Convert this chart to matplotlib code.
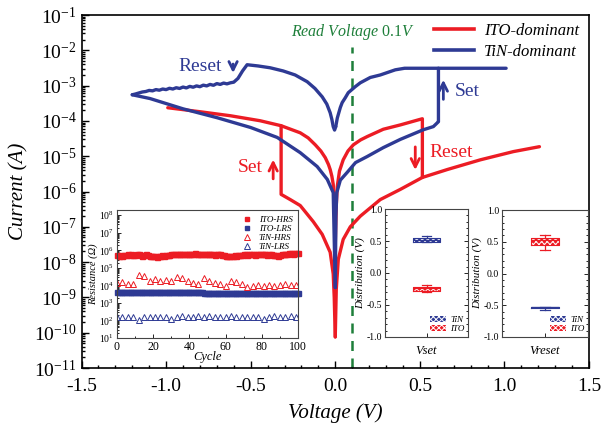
import matplotlib
matplotlib.use('Agg')
import matplotlib.pyplot as plt
import numpy as np
from matplotlib.ticker import LogLocator, MultipleLocator, NullFormatter, FormatStrFormatter
from matplotlib.patches import Patch
from matplotlib.lines import Line2D

plt.rcParams['font.family'] = ['Liberation Serif', 'DejaVu Serif']
plt.rcParams['mathtext.fontset'] = 'custom'
plt.rcParams['mathtext.rm'] = 'Liberation Serif'
plt.rcParams['mathtext.it'] = 'Liberation Serif:italic'
plt.rcParams['axes.unicode_minus'] = False
plt.rcParams['hatch.color'] = 'white'
plt.rcParams['hatch.linewidth'] = 0.7

RED = '#EC1C24'
BLUE = '#2E3A94'
GREEN = '#1E7F3A'

# ---------------- I-V data (ITO-dominant, red) ----------------
ito_pos_v = [0.0, 0.006, 0.012, 0.025, 0.047, 0.075, 0.107, 0.150, 0.189, 0.284, 0.385, 0.491, 0.515, 0.515,
             0.663, 0.858, 1.053, 1.207]
ito_pos_i = [3e-8, 4e-7, 1.4e-6, 3.8e-6, 7.9e-6, 1.4e-5, 2.1e-5, 2.9e-5, 3.6e-5, 5.8e-5, 7.7e-5, 1.07e-4,
             1.15e-4, 2.5e-6, 4.2e-6, 7.9e-6, 1.35e-5, 1.86e-5]
ito_ret_v = [0.515, 0.385, 0.266, 0.148, 0.089, 0.047, 0.018, 0.006, 0.0]
ito_ret_i = [2.5e-6, 1.15e-6, 5.9e-7, 2.0e-7, 1.0e-7, 4.4e-8, 1.2e-8, 1.7e-9, 7.6e-11]
ito_neg_v = [0.0, -0.006, -0.012, -0.030, -0.077, -0.130, -0.207, -0.266, -0.32, -0.32]
ito_neg_i = [7.6e-11, 1.0e-9, 4.6e-9, 1.9e-8, 6.1e-8, 1.4e-7, 4.0e-7, 5.9e-7, 8.3e-7, 7.3e-5]
ito_lrs_v = [-0.99, -0.80, -0.62, -0.444, -0.32, -0.207, -0.160, -0.118, -0.085, -0.059, -0.040, -0.030,
             -0.020, -0.012, -0.005, 0.0]
ito_lrs_i = [2.36e-4, 1.82e-4, 1.40e-4, 1.01e-4, 7.3e-5, 4.6e-5, 3.3e-5, 2.1e-5, 1.4e-5, 9.1e-6, 5.8e-6,
             4.2e-6, 2.7e-6, 1.6e-6, 5e-7, 3e-8]

# ---------------- I-V data (TiN-dominant, blue) ----------------
tin_pos_v = [0.0, 0.004, 0.009, 0.030, 0.071, 0.120, 0.189, 0.284, 0.385, 0.52, 0.58, 0.604, 0.61, 0.61, 1.01]
tin_pos_i = [1.9e-9, 2e-7, 9.3e-7, 2.1e-6, 3.5e-6, 6.6e-6, 9.8e-6, 1.75e-5, 3.0e-5, 5.6e-5, 6.9e-5, 8.9e-5,
             9.5e-5, 3.1e-3, 3.1e-3]
tin_ret_v = [0.61, 0.41, 0.355, 0.266, 0.207, 0.148, 0.118, 0.077, 0.059, 0.041, 0.030, 0.012, 0.003]
tin_ret_i = [3.1e-3, 3.1e-3, 2.8e-3, 2.0e-3, 1.7e-3, 1.2e-3, 9.3e-4, 6.3e-4, 4.5e-4, 3.3e-4, 2.4e-4, 1.2e-4,
             6.9e-5]
tin_neg_v = [0.003, -0.004, -0.012, -0.020, -0.030, -0.050, -0.077, -0.120, -0.166, -0.237, -0.308, -0.385,
             -0.456, -0.521, -0.548, -0.575, -0.60,
             -0.62, -0.64, -0.66, -0.68, -0.70, -0.72, -0.74, -0.76, -0.78, -0.80, -0.82, -0.84, -0.86,
             -0.88, -0.90, -0.92, -0.94, -0.96, -0.98, -1.00, -1.02, -1.04, -1.06, -1.08, -1.10, -1.12,
             -1.14, -1.16, -1.18, -1.20]
tin_neg_i = [6.9e-5, 5.5e-5, 6.9e-5, 1.1e-4, 1.7e-4, 3.0e-4, 4.8e-4, 8.3e-4, 1.29e-3, 2.0e-3, 2.6e-3, 3.2e-3,
             3.6e-3, 3.9e-3, 2.6e-3, 1.6e-3, 1.25e-3,
             1.20e-3, 1.12e-3, 1.18e-3, 1.08e-3, 1.14e-3, 1.02e-3, 1.08e-3, 0.98e-3, 1.03e-3, 0.93e-3, 0.98e-3,
             0.90e-3, 0.95e-3, 0.86e-3, 0.91e-3, 0.83e-3, 0.87e-3, 0.80e-3, 0.84e-3, 0.77e-3, 0.80e-3, 0.74e-3,
             0.77e-3, 0.71e-3, 0.73e-3, 0.68e-3, 0.66e-3, 0.62e-3, 0.58e-3, 0.55e-3]
tin_hrs_v = [-1.20, -1.095, -0.90, -0.698, -0.50, -0.343, -0.207, -0.107, -0.047, -0.012, 0.0]
tin_hrs_i = [5.5e-4, 4.3e-4, 2.2e-4, 1.23e-4, 6.5e-5, 3.4e-5, 1.26e-5, 5.1e-6, 2.2e-6, 9.3e-7, 1.9e-9]

# ---------------- endurance inset data ----------------
cycles = list(range(0, 101))
ito_hrs = [v * 1e5 for v in [
    5.2, 5.0, 5.5, 4.8, 5.3, 5.6, 5.8, 5.5, 6.0, 5.7,
    5.5, 5.9, 6.2, 5.4, 5.0, 5.6, 5.8, 5.3, 4.6, 4.9,
    4.5, 4.8, 4.4, 4.7, 5.0, 5.2, 4.8, 5.4, 5.1, 5.6,
    5.9, 6.1, 5.8, 6.3, 6.0, 6.5, 6.2, 5.9, 6.4, 6.6,
    6.1, 6.3, 6.0, 6.7, 6.4, 6.2, 6.6, 6.0, 5.8, 6.3,
    6.1, 5.9, 6.4, 6.2, 5.7, 6.0, 6.3, 5.8, 5.5, 5.2,
    5.0, 4.6, 4.9, 4.5, 4.8, 5.1, 4.7, 5.3, 5.6, 5.2,
    5.8, 6.0, 5.7, 6.2, 5.9, 6.1, 5.6, 6.0, 5.8, 6.2,
    5.9, 6.3, 6.0, 5.5, 5.8, 6.1, 5.7, 5.2, 5.6, 5.0,
    5.4, 5.9, 6.2, 6.6, 5.8, 6.8, 7.2, 6.5, 7.4, 7.0,
    7.5]]
ito_lrs = [v * 1e3 for v in [
    4.1, 4.0, 4.2, 4.1, 4.0, 4.2, 4.1, 4.3, 4.1, 4.0,
    4.2, 4.1, 4.0, 4.2, 4.1, 4.0, 4.1, 4.2, 4.0, 4.1,
    4.2, 4.0, 4.1, 4.1, 4.0, 4.2, 4.1, 4.0, 4.1, 4.2,
    4.0, 4.1, 4.2, 4.1, 4.0, 4.1, 4.2, 4.0, 4.1, 4.1,
    4.0, 4.2, 4.1, 4.0, 4.1, 4.2, 4.0, 4.1, 3.8, 3.7,
    3.8, 3.7, 3.6, 3.8, 3.7, 3.8, 3.6, 3.7, 3.8, 3.7,
    3.6, 3.7, 3.8, 3.7, 3.6, 3.8, 3.7, 3.9, 3.8, 3.7,
    3.8, 3.7, 3.6, 3.7, 3.8, 3.7, 3.9, 3.8, 3.7, 3.6,
    3.7, 3.8, 3.7, 3.6, 3.8, 3.7, 3.8, 3.7, 3.6, 3.7,
    3.8, 3.7, 3.8, 3.9, 3.7, 3.8, 3.7, 3.8, 3.9, 3.8,
    3.8]]
tin_cycles = list(range(0, 100, 3))
tin_hrs = [v * 1e4 for v in [
    1.4, 1.5, 1.2, 1.2, 4.0, 3.3, 1.9, 2.3, 1.7, 2.0, 1.8, 3.2, 2.8, 1.8, 1.3, 1.2, 2.6,
    1.8, 1.4, 1.2, 0.95, 1.9, 1.6, 1.2, 0.85, 0.95, 1.0, 0.98, 1.0, 0.95, 1.1, 1.2, 1.0, 1.1]]
tin_lrs = [v * 1e2 for v in [
    1.6, 1.5, 1.6, 1.5, 1.1, 1.5, 1.6, 1.5, 1.6, 1.5, 1.2, 1.6, 1.7, 1.6, 1.5, 1.7, 1.6,
    1.7, 1.6, 1.5, 1.6, 1.7, 1.6, 1.5, 1.6, 1.5, 1.6, 1.2, 1.6, 1.7, 1.5, 1.6, 1.7, 1.5]]

# ---------------- distribution insets (box stats) ----------------
vset_tin = dict(med=0.52, q1=0.49, q3=0.55, whislo=0.49, whishi=0.58)
vset_ito = dict(med=-0.24, q1=-0.277, q3=-0.214, whislo=-0.30, whishi=-0.19)
vreset_ito = dict(med=0.525, q1=0.45, q3=0.56, whislo=0.37, whishi=0.61)
vreset_tin = dict(med=-0.535, q1=-0.545, q3=-0.528, whislo=-0.57, whishi=-0.528)

# ================= figure =================
fig = plt.figure(figsize=(6.01, 4.29), dpi=100)
ax = fig.add_axes([81.5 / 601, 1 - 368 / 429, 507.5 / 601, 353 / 429])
ax.set_yscale('log')
ax.set_xlim(-1.5, 1.5)
ax.set_ylim(1e-11, 1e-1)

lw = 2.4
for v, i in [(ito_pos_v, ito_pos_i), (ito_ret_v, ito_ret_i), (ito_neg_v, ito_neg_i), (ito_lrs_v, ito_lrs_i)]:
    ax.plot(v, i, color=RED, lw=lw, solid_joinstyle='round', solid_capstyle='round', zorder=3)
for v, i in [(tin_pos_v, tin_pos_i), (tin_ret_v, tin_ret_i), (tin_neg_v, tin_neg_i), (tin_hrs_v, tin_hrs_i)]:
    ax.plot(v, i, color=BLUE, lw=lw, solid_joinstyle='round', solid_capstyle='round', zorder=4)

ax.axvline(0.1, ymin=0, ymax=(np.log10(1.25e-2) + 11) / 10, color=GREEN, lw=1.8, ls=(0, (4, 3)), zorder=2)
ax.text(0.107, 3.3e-2, r'$\mathit{Read\ Voltage}\ 0.1\mathit{V}$', color=GREEN, fontsize=11.5,
        ha='center', va='center')

leg_handles = [Line2D([], [], color=RED, lw=2.6), Line2D([], [], color=BLUE, lw=2.6)]
ax.legend(leg_handles, ['ITO-dominant', 'TiN-dominant'], loc='upper left', bbox_to_anchor=(0.675, 1.005),
          frameon=False, prop=dict(style='italic', size=12), handlelength=2.4, handletextpad=0.6,
          labelspacing=0.3, borderaxespad=0.2)

arw = dict(arrowstyle='->', lw=2.0, mutation_scale=15)
ax.annotate('', xy=(-0.604, 1.9e-3), xytext=(-0.604, 4.9e-3), arrowprops=dict(color=BLUE, **arw))
ax.text(-0.80, 3.4e-3, 'Reset', color=BLUE, fontsize=14, ha='center', va='center')
ax.annotate('', xy=(-0.367, 9.6e-6), xytext=(-0.367, 1.9e-6), arrowprops=dict(color=RED, **arw))
ax.text(-0.505, 4.8e-6, 'Set', color=RED, fontsize=14, ha='center', va='center')
ax.annotate('', xy=(0.639, 1.75e-3), xytext=(0.639, 3.4e-4), arrowprops=dict(color=BLUE, **arw))
ax.text(0.78, 6.6e-4, 'Set', color=BLUE, fontsize=14, ha='center', va='center')
ax.annotate('', xy=(0.473, 3.4e-6), xytext=(0.473, 2.2e-5), arrowprops=dict(color=RED, **arw))
ax.text(0.686, 1.26e-5, 'Reset', color=RED, fontsize=14, ha='center', va='center')

ax.xaxis.set_major_locator(MultipleLocator(0.5))
ax.xaxis.set_minor_locator(MultipleLocator(0.1))
ax.xaxis.set_major_formatter(FormatStrFormatter('%.1f'))
ax.yaxis.set_major_locator(LogLocator(base=10, numticks=20))
ax.yaxis.set_minor_locator(LogLocator(base=10, subs=np.arange(2, 10), numticks=200))
ax.yaxis.set_minor_formatter(NullFormatter())
ax.tick_params(which='both', direction='in', top=False, right=False, labelsize=14, width=1.0)
ax.tick_params(which='major', length=5)
ax.tick_params(which='minor', length=2.5)
ax.tick_params(axis='x', pad=7)
for s in ax.spines.values():
    s.set_linewidth(1.2)
ax.set_xlabel('Voltage (V)', style='italic', fontsize=15, labelpad=6)
ax.set_ylabel('Current (A)', style='italic', fontsize=15, labelpad=4)

# ---------------- endurance inset ----------------
axr = fig.add_axes([117 / 601, 1 - 338 / 429, 181 / 601, 128 / 429])
axr.set_yscale('log')
axr.plot(cycles, ito_hrs, ls='none', marker='s', ms=3.6, color=RED, mec=RED, label='ITO-HRS', clip_on=False)
axr.plot(cycles, ito_lrs, ls='none', marker='s', ms=3.6, color=BLUE, mec=BLUE, label='ITO-LRS', clip_on=False)
axr.plot(tin_cycles, tin_hrs, ls='none', marker='^', ms=4.2, mfc='none', mec=RED, mew=0.7, label='TiN-HRS')
axr.plot(tin_cycles, tin_lrs, ls='none', marker='^', ms=4.2, mfc='none', mec=BLUE, mew=0.7, label='TiN-LRS')
axr.set_xlim(0, 100)
axr.set_ylim(10, 2e8)
axr.xaxis.set_major_locator(MultipleLocator(20))
axr.xaxis.set_minor_locator(MultipleLocator(10))
axr.yaxis.set_major_locator(LogLocator(base=10, numticks=20))
axr.yaxis.set_minor_locator(LogLocator(base=10, subs=np.arange(2, 10), numticks=200))
axr.yaxis.set_minor_formatter(NullFormatter())
axr.tick_params(which='both', direction='in', labelsize=8.5, width=0.6, pad=2)
axr.tick_params(which='major', length=3)
axr.tick_params(which='minor', length=1.5)
axr.tick_params(axis='y', labelsize=7)
for s in axr.spines.values():
    s.set_linewidth(0.8)
    s.set_color('#444444')
axr.set_xlabel('Cycle', style='italic', fontsize=9, labelpad=-1)
axr.set_ylabel('Resistance (Ω)', style='italic', fontsize=7.5, labelpad=1)
axr.legend(loc='upper right', frameon=False, prop=dict(style='italic', size=6.5), handlelength=1.0,
           handletextpad=0.8, labelspacing=0.1, borderaxespad=0.2, markerscale=0.9)


def box_inset(rect, stats_list, colors, xlabel):
    a = fig.add_axes(rect)
    for st, c in zip(stats_list, colors):
        s = dict(st, fliers=[], label='')
        b = a.bxp([s], positions=[1], widths=0.33, patch_artist=True, showfliers=False,
                  boxprops=dict(facecolor=c, lw=0), whiskerprops=dict(lw=0), capprops=dict(lw=0),
                  medianprops=dict(lw=0))
        for p in b['boxes']:
            p.set_edgecolor('white')
            p.set_hatch('xxxxxx')
            p.set_linewidth(0)
        a.bxp([s], positions=[1], widths=0.33, patch_artist=False, showfliers=False,
              boxprops=dict(color=c, lw=0.8), whiskerprops=dict(color=c, lw=0.9),
              capprops=dict(color=c, lw=0.9), medianprops=dict(color=c, lw=0.9), capwidths=0.12)
    a.set_xlim(0.5, 1.5)
    a.set_ylim(-1.0, 1.0)
    a.set_xticks([1])
    a.set_xticklabels([''])
    a.yaxis.set_major_locator(MultipleLocator(0.5))
    a.yaxis.set_minor_locator(MultipleLocator(0.1))
    a.yaxis.set_major_formatter(FormatStrFormatter('%.1f'))
    a.tick_params(which='both', direction='in', right=True, labelsize=7, width=0.6, pad=2)
    a.tick_params(which='major', length=3)
    a.tick_params(which='minor', length=1.5)
    for sp in a.spines.values():
        sp.set_linewidth(0.8)
        sp.set_color('#444444')
    a.set_xlabel(xlabel, style='italic', fontsize=9, labelpad=4)
    a.set_ylabel('Distribution (V)', style='italic', fontsize=8, labelpad=1)
    hs = [Patch(facecolor=BLUE, edgecolor='white', hatch='xxxxxx', lw=0),
          Patch(facecolor=RED, edgecolor='white', hatch='xxxxxx', lw=0)]
    a.legend(hs, ['TiN', 'ITO'], loc='lower right', frameon=False, prop=dict(style='italic', size=6.5),
             handlelength=1.8, handleheight=0.6, handletextpad=0.4, labelspacing=0.15, borderaxespad=0.0)
    return a


box_inset([385 / 601, 1 - 337 / 429, 83 / 601, 128 / 429], [vset_tin, vset_ito], [BLUE, RED], 'Vset')
box_inset([502 / 601, 1 - 337 / 429, 86 / 601, 127 / 429], [vreset_ito, vreset_tin], [RED, BLUE], 'Vreset')

fig.savefig('out.png', dpi=100)
